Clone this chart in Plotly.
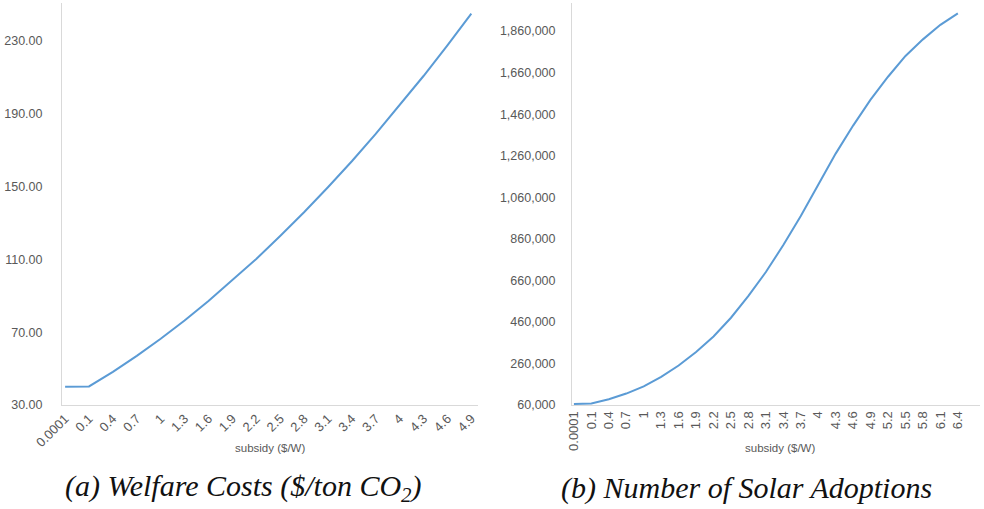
import plotly.graph_objects as go
from plotly.subplots import make_subplots

# Subsidy levels ($/W) used as category labels on each panel
subsidy_a = ["0.0001", "0.1", "0.4", "0.7", "1", "1.3", "1.6", "1.9", "2.2",
             "2.5", "2.8", "3.1", "3.4", "3.7", "4", "4.3", "4.6", "4.9"]
subsidy_b = ["0.0001", "0.1", "0.4", "0.7", "1", "1.3", "1.6", "1.9", "2.2",
             "2.5", "2.8", "3.1", "3.4", "3.7", "4", "4.3", "4.6", "4.9",
             "5.2", "5.5", "5.8", "6.1", "6.4"]

# Welfare cost per ton of CO2 abated
welfare_cost = [40.0, 40.2, 48.2, 57.0, 66.4, 76.4, 87.1, 98.4, 110.2,
                122.8, 135.9, 149.6, 163.9, 178.9, 194.5, 210.7, 227.5, 245.0]

# Cumulative number of residential solar adoptions
adoptions = [65000, 67000, 88000, 115000, 150000, 195000, 250000, 315000,
             390000, 480000, 585000, 700000, 830000, 970000, 1120000,
             1270000, 1405000, 1530000, 1640000, 1740000, 1820000, 1890000,
             1945000]

ticks_a_y = [30, 70, 110, 150, 190, 230]
ticks_b_y = [60000, 260000, 460000, 660000, 860000, 1060000, 1260000,
             1460000, 1660000, 1860000]

LINE = "#5b9bd5"
AXIS = "#d9d9d9"
TXT = "#595959"
W, H = 984, 509

fig = make_subplots(rows=1, cols=2)

fig.add_trace(go.Scatter(x=list(range(len(subsidy_a))), y=welfare_cost,
                         mode="lines", line=dict(color=LINE, width=2),
                         showlegend=False), row=1, col=1)
fig.add_trace(go.Scatter(x=list(range(len(subsidy_b))), y=adoptions,
                         mode="lines", line=dict(color=LINE, width=2),
                         showlegend=False), row=1, col=2)

y_font = dict(family="Liberation Sans, Arial, sans-serif", size=12.5, color=TXT)
x_font = dict(family="Liberation Sans, Arial, sans-serif", size=13, color=TXT)
common = dict(showline=True, linecolor=AXIS, linewidth=1, showgrid=False,
              zeroline=False, ticks="", automargin=False)

fig.update_layout(
    width=W, height=H,
    margin=dict(l=0, r=0, t=0, b=0, autoexpand=False),
    paper_bgcolor="white", plot_bgcolor="white",
    xaxis=dict(domain=[62 / W, 478 / W], range=[-0.13, 17.28],
               tickmode="array", tickvals=list(range(len(subsidy_a))),
               ticktext=subsidy_a, tickangle=-45, tickfont=x_font, **common),
    yaxis=dict(domain=[1 - 405 / H, 1 - 3 / H], range=[30, 250.8],
               tickmode="array", tickvals=ticks_a_y, tickformat=".2f",
               tickfont=y_font, ticklabelstandoff=16, **common),
    xaxis2=dict(domain=[572 / W, 980 / W], range=[-0.11, 23.27],
                tickmode="array", tickvals=list(range(len(subsidy_b))),
                ticktext=subsidy_b, tickangle=-90, tickfont=x_font, **common),
    yaxis2=dict(domain=[1 - 405 / H, 1 - 3 / H], range=[60000, 1995000],
                tickmode="array", tickvals=ticks_b_y, tickformat=",",
                tickfont=y_font, ticklabelstandoff=13, **common),
)

axis_title_font = dict(family="Liberation Sans, Arial, sans-serif", size=11.5, color=TXT)
caption_font = dict(family="Liberation Serif", size=30, color="#111111",
                    style="italic")

def note(x, y, text, font):
    fig.add_annotation(x=x / W, y=1 - y / H, xref="paper", yref="paper",
                       xanchor="center", yanchor="middle",
                       text=text, showarrow=False, font=font)

note(270, 448, "subsidy ($/W)", axis_title_font)
note(780, 448, "subsidy ($/W)", axis_title_font)
note(243, 488, "(a) Welfare Costs ($/ton CO<sub>2</sub>)", caption_font)
note(746, 488, "(b) Number of Solar Adoptions", caption_font)

fig.write_html("out.html")
